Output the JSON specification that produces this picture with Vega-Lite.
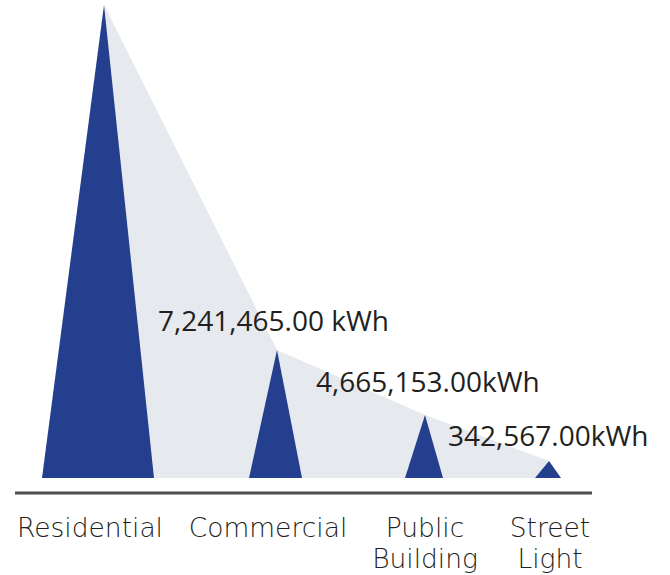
{
  "$schema": "https://vega.github.io/schema/vega-lite/v6.json",
  "width": 670,
  "height": 575,
  "autosize": "none",
  "padding": 0,
  "background": "white",
  "config": {"view": {"stroke": null}},
  "datasets": {
    "peaks": [
      {"category": "Residential", "x": 42, "h": 0},
      {"category": "Residential", "x": 104, "h": 473},
      {"category": "Residential", "x": 154, "h": 0},
      {"category": "Commercial", "x": 249, "h": 0},
      {"category": "Commercial", "x": 277, "h": 128},
      {"category": "Commercial", "x": 302, "h": 0},
      {"category": "Public Building", "x": 405, "h": 0},
      {"category": "Public Building", "x": 425, "h": 63},
      {"category": "Public Building", "x": 443, "h": 0},
      {"category": "Street Light", "x": 535, "h": 0},
      {"category": "Street Light", "x": 549, "h": 17},
      {"category": "Street Light", "x": 561, "h": 0}
    ],
    "envelope": [
      {"x": 104, "h": 473},
      {"x": 277, "h": 128},
      {"x": 425, "h": 63},
      {"x": 549, "h": 17},
      {"x": 561, "h": 0}
    ],
    "values": [
      {"label": "7,241,465.00 kWh", "x": 158, "h": 147},
      {"label": "4,665,153.00kWh", "x": 316, "h": 86},
      {"label": "342,567.00kWh", "x": 448, "h": 32}
    ],
    "cats": [
      {"label": "Residential", "x": 90, "h": -59},
      {"label": "Commercial", "x": 268, "h": -59},
      {"label": "Public\nBuilding", "x": 425, "h": -59},
      {"label": "Street\nLight", "x": 550, "h": -59}
    ],
    "axisline": [{"x": 15, "x2": 592, "h": -15}]
  },
  "layer": [
    {
      "data": {"name": "envelope"},
      "mark": {"type": "area", "color": "#e6e9ed", "interpolate": "linear"},
      "encoding": {
        "x": {"field": "x", "type": "quantitative", "scale": {"domain": [0, 670], "nice": false, "zero": false}, "axis": null},
        "y": {"field": "h", "type": "quantitative", "scale": {"domain": [-97, 478], "nice": false, "zero": false}, "axis": null, "stack": null},
        "y2": {"datum": 0}
      }
    },
    {
      "data": {"name": "peaks"},
      "mark": {"type": "area", "color": "#243f8e", "interpolate": "linear"},
      "encoding": {
        "x": {"field": "x", "type": "quantitative"},
        "y": {"field": "h", "type": "quantitative", "stack": null},
        "y2": {"datum": 0},
        "detail": {"field": "category", "type": "nominal"}
      }
    },
    {
      "data": {"name": "axisline"},
      "mark": {"type": "rule", "color": "#4d4d4d", "strokeWidth": 3},
      "encoding": {
        "x": {"field": "x", "type": "quantitative"},
        "x2": {"field": "x2"},
        "y": {"field": "h", "type": "quantitative"}
      }
    },
    {
      "data": {"name": "values"},
      "mark": {"type": "text", "align": "left", "baseline": "alphabetic", "font": "Open Sans", "fontSize": 28, "color": "#231f20"},
      "encoding": {
        "x": {"field": "x", "type": "quantitative"},
        "y": {"field": "h", "type": "quantitative"},
        "text": {"field": "label"}
      }
    },
    {
      "data": {"name": "cats"},
      "mark": {"type": "text", "align": "center", "baseline": "alphabetic", "font": "DejaVu Sans", "fontWeight": 300, "fontSize": 26.5, "color": "#231f20", "lineBreak": "\n", "lineHeight": 31},
      "encoding": {
        "x": {"field": "x", "type": "quantitative"},
        "y": {"field": "h", "type": "quantitative"},
        "text": {"field": "label"}
      }
    }
  ]
}
